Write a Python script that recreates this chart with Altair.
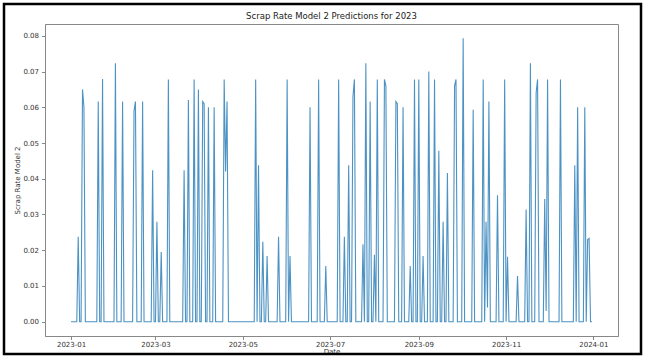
import altair as alt
import pandas as pd

# Day-of-year offsets (0 = 2023-01-01) where the prediction is non-zero
spike_days = [5, 8, 9, 19, 22, 31, 36, 44, 45, 50, 57, 60, 63, 68, 79, 82, 86, 89, 92, 93,
              96, 100, 107, 108, 109, 129, 131, 134, 137, 145, 151, 153, 167, 173, 178,
              187, 191, 194, 197, 198, 204, 206, 209, 212, 214, 219, 220, 227, 228, 232,
              237, 240, 243, 246, 250, 254, 257, 260, 263, 268, 269, 274, 281, 288, 290,
              291, 292, 298, 303, 305, 312, 318, 321, 325, 326, 331, 332, 333, 342, 352,
              354, 359, 361, 362]
spike_values = [0.0238, 0.065, 0.060, 0.0616, 0.0679, 0.0723, 0.0616, 0.059, 0.0616, 0.0616,
                0.0424, 0.028, 0.0195, 0.0678, 0.0424, 0.062, 0.0678, 0.065, 0.0616, 0.061,
                0.060, 0.060, 0.0678, 0.042, 0.0616, 0.0678, 0.0438, 0.0224, 0.0184, 0.0238,
                0.0678, 0.0184, 0.060, 0.0678, 0.0156, 0.0678, 0.0238, 0.0438, 0.063, 0.0678,
                0.0217, 0.0723, 0.0616, 0.0187, 0.0678, 0.0678, 0.066, 0.0616, 0.061, 0.060,
                0.0156, 0.0678, 0.0678, 0.0184, 0.070, 0.0678, 0.0478, 0.028, 0.0416, 0.066,
                0.0678, 0.0793, 0.0593, 0.0678, 0.028, 0.004, 0.0616, 0.0354, 0.0678, 0.0182,
                0.0128, 0.0314, 0.0723, 0.064, 0.0678, 0.0343, 0.003, 0.0678, 0.0678, 0.0438,
                0.060, 0.060, 0.023, 0.0233]
start_date = "2023-01-01"
end_date = "2023-12-31"
x_tick_labels = ["2023-01", "2023-03", "2023-05", "2023-07", "2023-09", "2023-11", "2024-01"]
y_ticks = [0.00, 0.01, 0.02, 0.03, 0.04, 0.05, 0.06, 0.07, 0.08]
chart_title = "Scrap Rate Model 2 Predictions for 2023"

dates = pd.date_range(start_date, end_date, freq="D")
vals = [0.0] * len(dates)
for d, v in zip(spike_days, spike_values):
    vals[d] = v
df = pd.DataFrame({"Date": dates.strftime("%Y-%m-%d"), "Rate": vals})

FONT = "DejaVu Sans"
tick_vals = [pd.Timestamp(t + "-01").isoformat() for t in x_tick_labels]

line = alt.Chart(df).mark_line(color="#1f77b4", strokeWidth=1.1, opacity=0.8).encode(
    x=alt.X("Date:T", title="Date",
            scale=alt.Scale(domain=["2022-12-13T19:00:00", "2024-01-18T05:00:00"], nice=False),
            axis=alt.Axis(values=tick_vals, format="%Y-%m", grid=False, labelAngle=0,
                          tickSize=3.5, labelPadding=1, titlePadding=0)),
    y=alt.Y("Rate:Q", title="Scrap Rate Model 2",
            scale=alt.Scale(domain=[-0.004, 0.0833], nice=False, zero=False),
            axis=alt.Axis(values=y_ticks, format=".2f", grid=False, tickSize=3.5,
                          labelPadding=3, titlePadding=2)),
)

title_text = alt.Chart(alt.Data(values=[{"t": chart_title}])).mark_text(
    font=FONT, fontSize=8.5, color="#222", align="center", baseline="alphabetic", clip=False
).encode(text="t:N", x=alt.value(286.5), y=alt.value(-5))

border = alt.Chart(alt.Data(values=[{}])).mark_rect(
    filled=False, stroke="black", strokeWidth=2.5, clip=False
).encode(x=alt.value(-41), x2=alt.value(596), y=alt.value(-20), y2=alt.value(330))

chart = alt.layer(line, title_text, border).properties(
    width=573, height=312,
    autosize=alt.AutoSizeParams(type="none"),
    padding={"left": 45, "top": 24, "right": 27, "bottom": 24},
    background="white",
).configure_view(stroke="#888", strokeWidth=1).configure_axis(
    labelFont=FONT, titleFont=FONT, labelFontSize=7, titleFontSize=7,
    labelColor="#333", titleColor="#333", titleFontWeight="normal",
    domainColor="#888", tickColor="#888", domainWidth=1,
)

chart.save("out.html", embed_options={"renderer": "svg", "actions": False})
